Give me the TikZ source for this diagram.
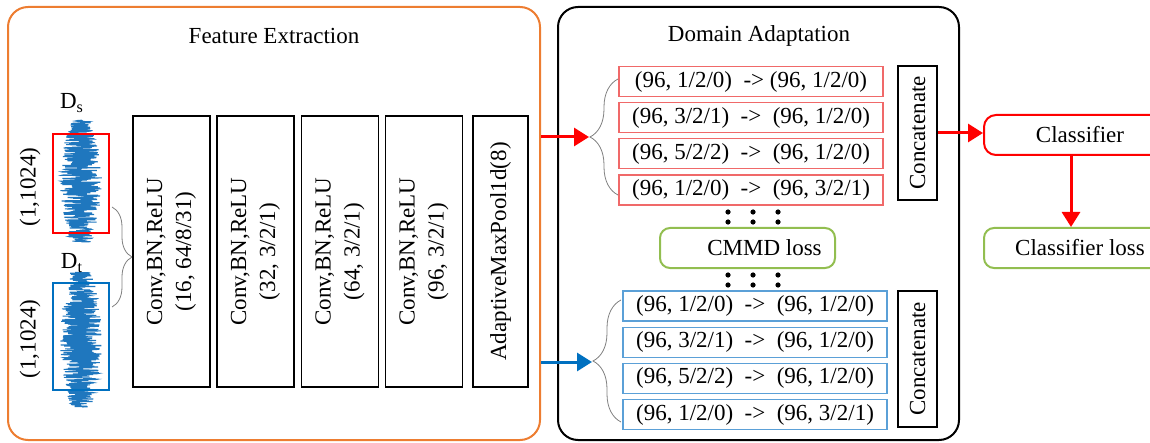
\documentclass[tikz,border=0pt]{standalone}
\usepackage{fontspec}
\setmainfont{Liberation Serif}
\usetikzlibrary{positioning, arrows.meta, decorations.pathreplacing}

\definecolor{feorange}{RGB}{237,125,49}
\definecolor{wavblue}{RGB}{31,119,190}
\definecolor{tgtblue}{RGB}{0,112,192}
\definecolor{lossgreen}{RGB}{146,190,80}
\definecolor{srcpink}{RGB}{240,105,105}
\definecolor{tgtsky}{RGB}{91,160,215}

\begin{document}
\begin{tikzpicture}[x=0.5pt, y=-0.5pt, font=\fontsize{11.5}{14.5}\selectfont]
		\tikzstyle{every node}=[inner sep=0pt]
		\tikzstyle{frame}=[rectangle, rounded corners=10pt, line width=1pt]
		\tikzstyle{conv}=[rectangle, draw, line width=0.6pt, rotate=90, minimum width=135.5pt, minimum height=38.5pt, align=center]
		\tikzstyle{srcbox}=[rectangle, draw=srcpink, line width=0.6pt, minimum width=132pt, minimum height=15pt]
		\tikzstyle{tgtbox}=[rectangle, draw=tgtsky, line width=0.6pt, minimum width=132pt, minimum height=15pt]
		\tikzstyle{concat}=[rectangle, draw, line width=0.6pt, rotate=90, minimum height=19.5pt]
		\tikzstyle{lossbox}=[rectangle, rounded corners=5pt, draw=lossgreen, line width=1pt, minimum height=20pt]
		\tikzstyle{brace}=[gray, line width=0.4pt, decorate]
		\tikzstyle{srcarrow}=[->, red, line width=1.5pt, >={Triangle[length=7.5pt, width=9pt]}]
		\tikzstyle{tgtarrow}=[->, tgtblue, line width=1.5pt, >={Triangle[length=7.5pt, width=9pt]}]

		\useasboundingbox (0,0) rectangle (1150,443);
		\clip (0,0) rectangle (1150,443);

		% the two stages
		\node[frame, draw=feorange, minimum width=266pt, minimum height=216.5pt] (fe) at (274,223.5) {};
		\node[frame, draw, minimum width=200.5pt, minimum height=216.5pt] (da) at (758.5,223.5) {};
		\node (fetitle) at (274,36) {Feature Extraction};
		\node (datitle) at (759,36) {Domain Adaptation};

		% input signals
		\pgfmathsetseed{11}
		\draw[wavblue, line width=0.55pt] (81,120)
			\foreach \k in {1,...,480} { -- ({81+rand*(11+10*sin(0.375*\k))}, {120+0.254*\k}) };
		\draw[wavblue, line width=0.55pt] (81,272)
			\foreach \k in {1,...,520} { -- ({81+rand*(11+10*sin(0.346*\k))}, {272+0.2596*\k}) };
		\node[draw=red, line width=0.9pt, minimum width=28pt, minimum height=49.5pt] (srcwin) at (81,183.5) {};
		\node[draw=tgtblue, line width=0.9pt, minimum width=28pt, minimum height=53.5pt] (tgtwin) at (81,336.5) {};
		\node (dslabel) at (72,103) {D\textsubscript{s}};
		\node (dtlabel) at (72,263) {D\textsubscript{t}};
		\node[rotate=90] (srcdim) at (30,187) {(1,1024)};
		\node[rotate=90] (tgtdim) at (30,339) {(1,1024)};
		\draw[brace, decoration={brace, amplitude=10pt}] (112,207) -- (112,307);

		% feature extractor
		\node[conv] (conv1) at (171.5,251.5) {Conv,BN,ReLU\\(16, 64/8/31)};
		\node[conv] (conv2) at (255.5,251.5) {Conv,BN,ReLU\\(32, 3/2/1)};
		\node[conv] (conv3) at (340,251.5) {Conv,BN,ReLU\\(64, 3/2/1)};
		\node[conv] (conv4) at (424,251.5) {Conv,BN,ReLU\\(96, 3/2/1)};
		\node[conv, minimum height=27.5pt] (pool) at (500.5,251.5) {AdaptiveMaxPool1d(8)};

		% source branch
		\node[srcbox] (s1) at (751,81.5) {(96, 1/2/0)~~->~(96, 1/2/0)};
		\node[srcbox, below=2.5pt of s1] (s2) {(96, 3/2/1)~~->~~(96, 1/2/0)};
		\node[srcbox, below=2.5pt of s2] (s3) {(96, 5/2/2)~~->~~(96, 1/2/0)};
		\node[srcbox, below=2.5pt of s3] (s4) {(96, 1/2/0)~~->~~(96, 3/2/1)};
		\draw[brace, decoration={brace, amplitude=14pt}] (618,195) -- (618,79);
		\coordinate (srctip) at (589,137);
		\node[concat, minimum width=67pt] (cat1) at (917.5,133) {Concatenate};

		% target branch
		\node[tgtbox] (t1) at (755,306) {(96, 1/2/0)~~->~~(96, 1/2/0)};
		\node[tgtbox, below=2.5pt of t1] (t2) {(96, 3/2/1)~~->~~(96, 1/2/0)};
		\node[tgtbox, below=2.5pt of t2] (t3) {(96, 5/2/2)~~->~~(96, 1/2/0)};
		\node[tgtbox, below=2.5pt of t3] (t4) {(96, 1/2/0)~~->~~(96, 3/2/1)};
		\draw[brace, decoration={brace, amplitude=14pt}] (621,422) -- (621,300);
		\coordinate (tgttip) at (592,362);
		\node[concat, minimum width=68pt] (cat2) at (917.5,359) {Concatenate};

		% losses
		\foreach \x in {728,753,778}
			\foreach \y in {212,222,275,285}
				\fill (\x,\y) circle (1.3pt);
		\node[lossbox, minimum width=87.5pt] (cmmd) at (747.5,248) {\hspace*{17pt}CMMD loss};
		\node[rectangle, rounded corners=6pt, draw=red, line width=1pt, minimum width=96pt, minimum height=20pt] (cls) at (1080,135) {Classifier};
		\node[lossbox, minimum width=96pt] (clsloss) at (1080,248) {Classifier loss};

		\draw[srcarrow] (fe.east |- srctip) -- (srctip);
		\draw[tgtarrow] (fe.east |- tgttip) -- (tgttip);
		\draw[srcarrow] (cat1.south) -- (cat1.south -| cls.west);
		\draw[srcarrow] ([xshift=-4.5pt]cls.south) -- ([xshift=-4.5pt]clsloss.north);

	\end{tikzpicture}
\end{document}
